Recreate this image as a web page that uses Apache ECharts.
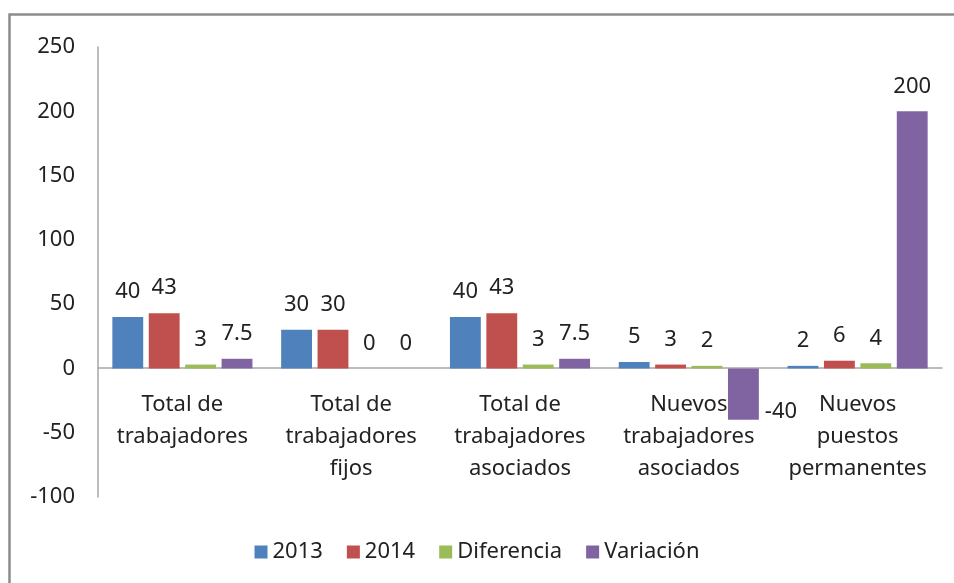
<!DOCTYPE html>
<html>
<head>
<meta charset="utf-8">
<script src="https://cdn.jsdelivr.net/npm/echarts@6/dist/echarts.min.js"></script>
<style>
  html, body { margin: 0; padding: 0; background: #fff; }
  #chart { width: 954px; height: 583px; }
</style>
</head>
<body>
<div id="chart"></div>
<script>
const categories = [
  'Total de\ntrabajadores',
  'Total de\ntrabajadores\nfijos',
  'Total de\ntrabajadores\nasociados',
  'Nuevos\ntrabajadores\nasociados',
  'Nuevos\npuestos\npermanentes'
]
const data2013 = [40, 30, 40, 5, 2]
const data2014 = [43, 30, 43, 3, 6]
const dataDiferencia = [3, 0, 3, 2, 4]
const dataVariacion = [7.5, 0, 7.5, -40, 200]

const colorSets = ['#4F81BD', '#C0504D', '#9BBB59', '#8064A2']
const font = 'Noto Sans'
const textColor = '#222'
const fontSize = 22

function barSeries(name, values) {
  return {
    name: name,
    type: 'bar',
    barGap: '18%',
    barCategoryGap: '17%',
    label: {
      show: true,
      position: 'top',
      distance: 14,
      fontFamily: font,
      fontSize: fontSize,
      color: textColor
    },
    data: values.map(v => v < 0
      ? { value: v, label: { position: 'right', offset: [0, 18], distance: 6 } }
      : v)
  }
}

const chart = echarts.init(document.getElementById('chart'))
chart.setOption({
  color: colorSets,
  animation: false,
  textStyle: { fontFamily: font },
  graphic: [{
    type: 'rect',
    shape: { x: 9.5, y: 14.5, width: 1000, height: 700 },
    style: { fill: 'none', stroke: '#8c8c8c', lineWidth: 2.5 },
    silent: true
  }],
  grid: { left: 98, right: 12, top: 47, bottom: 86, containLabel: false, outerBoundsMode: 'none' },
  legend: {
    bottom: 15,
    left: 'center',
    itemWidth: 13,
    itemHeight: 13,
    itemGap: 24,
    icon: 'rect',
    textStyle: { fontFamily: font, fontSize: fontSize, color: textColor },
    data: ['2013', '2014', 'Diferencia', 'Variación']
  },
  xAxis: {
    type: 'category',
    data: categories,
    position: 'bottom',
    offset: -129,
    axisLine: { onZero: false, lineStyle: { color: '#a6a6a6', width: 1.5 } },
    axisTick: { show: false },
    axisLabel: {
      interval: 0,
      margin: 21,
      fontFamily: font,
      fontSize: fontSize,
      lineHeight: 32,
      color: textColor
    }
  },
  yAxis: {
    type: 'value',
    min: -100,
    max: 250,
    interval: 50,
    axisLine: { show: true, lineStyle: { color: '#a6a6a6', width: 1.5 } },
    axisTick: { show: false },
    splitLine: { show: false },
    axisLabel: { margin: 23, fontFamily: font, fontSize: fontSize, color: textColor }
  },
  series: [
    barSeries('2013', data2013),
    barSeries('2014', data2014),
    barSeries('Diferencia', dataDiferencia),
    barSeries('Variación', dataVariacion)
  ]
})
</script>
</body>
</html>
